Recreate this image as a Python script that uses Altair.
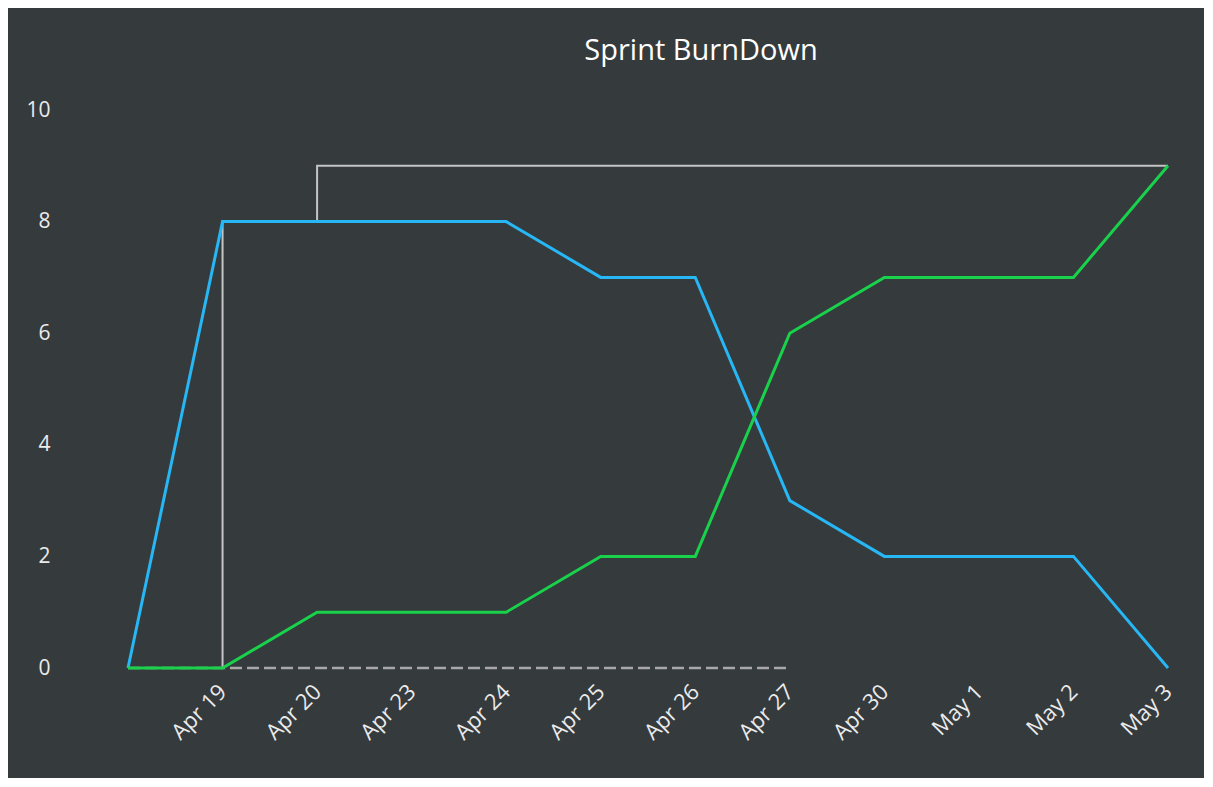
import altair as alt
import pandas as pd

# ---- data ----
day_index = list(range(12))
day_labels = ["", "Apr 19", "Apr 20", "Apr 23", "Apr 24", "Apr 25", "Apr 26",
              "Apr 27", "Apr 30", "May 1", "May 2", "May 3"]
remaining = [0, 8, 8, 8, 8, 7, 7, 3, 2, 2, 2, 0]
completed = [0, 0, 1, 1, 1, 2, 2, 6, 7, 7, 7, 9]
scope = [0, 8, 9, 9, 9, 9, 9, 9, 9, 9, 9, 9]
ideal = [0, 0, 0, 0, 0, 0, 0, 0]
y_ticks = [0, 2, 4, 6, 8, 10]

df_rem = pd.DataFrame({"i": day_index, "v": remaining})
df_com = pd.DataFrame({"i": day_index, "v": completed})
df_scope = pd.DataFrame({"i": day_index, "v": scope})
df_ideal = pd.DataFrame({"i": day_index[:len(ideal)], "v": ideal})

label_expr = "[" + ",".join("'" + s + "'" for s in day_labels) + "][datum.value]"

FONT = "Open Sans"
x_enc = alt.X("i:Q", scale=alt.Scale(domain=[0, 11], nice=False, zero=False),
              axis=alt.Axis(values=day_index[1:], labelExpr=label_expr, title=None,
                            labelAngle=315, labelAlign="right", labelBaseline="middle",
                            labelPadding=20, domain=False, ticks=False, grid=False,
                            labelColor="#ebebeb", labelFontSize=22, labelFont=FONT))
y_enc = alt.Y("v:Q", scale=alt.Scale(domain=[0, 10], nice=False),
              axis=alt.Axis(values=y_ticks, title=None, domain=False, ticks=False,
                            grid=False, labelPadding=78, labelColor="#ebebeb",
                            labelFontSize=21, labelFont=FONT))

scope_l = alt.Chart(df_scope).mark_line(interpolate="step-after", color="#c4c4c4",
                                         strokeWidth=2).encode(x=x_enc, y=y_enc)
ideal_l = alt.Chart(df_ideal).mark_line(color="#a8a8a8", strokeWidth=2.5,
                                         strokeDash=[12, 5]).encode(x=x_enc, y=y_enc)
rem_l = alt.Chart(df_rem).mark_line(color="#27b7f5", strokeWidth=3).encode(x=x_enc, y=y_enc)
com_l = alt.Chart(df_com).mark_line(color="#19d24b", strokeWidth=3).encode(x=x_enc, y=y_enc)

chart = alt.layer(scope_l, ideal_l, rem_l, com_l).properties(
    width=1040, height=558,
    autosize=alt.AutoSizeParams(type="none"),
    padding={"left": 120, "top": 102, "right": 36, "bottom": 110},
    background="#353a3d",
    title=alt.TitleParams("Sprint BurnDown", color="#ffffff", fontSize=29, font=FONT,
                          fontWeight="normal", anchor="middle", dx=53, offset=33),
).configure_view(stroke=None)

chart.save("out.html", embed_options={"renderer": "svg", "actions": False})
